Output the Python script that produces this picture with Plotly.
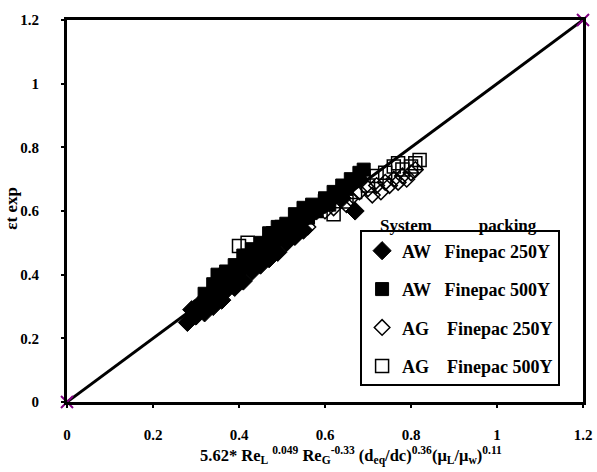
import plotly.graph_objects as go

# AW Finepac 250Y (filled diamonds)
aw250_x = [0.28, 0.29, 0.30, 0.31, 0.32, 0.33, 0.34, 0.35, 0.36, 0.36, 0.37, 0.38, 0.39, 0.40,
           0.41, 0.42, 0.43, 0.44, 0.45, 0.46, 0.47, 0.48, 0.49, 0.50, 0.51, 0.52, 0.53, 0.54,
           0.55, 0.56, 0.58, 0.60, 0.62, 0.64, 0.66, 0.67, 0.68]
aw250_y = [0.25, 0.29, 0.27, 0.31, 0.28, 0.33, 0.30, 0.36, 0.32, 0.40, 0.35, 0.39, 0.36, 0.41,
           0.38, 0.44, 0.41, 0.47, 0.43, 0.49, 0.45, 0.50, 0.47, 0.53, 0.50, 0.55, 0.52, 0.57,
           0.54, 0.59, 0.60, 0.62, 0.65, 0.64, 0.68, 0.60, 0.70]

# AW Finepac 500Y (filled squares)
aw500_x = [0.31, 0.32, 0.33, 0.34, 0.35, 0.35, 0.36, 0.37, 0.38, 0.39, 0.40, 0.41, 0.42, 0.43,
           0.44, 0.45, 0.46, 0.47, 0.48, 0.49, 0.50, 0.51, 0.52, 0.53, 0.54, 0.55, 0.56, 0.57,
           0.58, 0.60, 0.61, 0.62, 0.64, 0.65, 0.66, 0.68, 0.69]
aw500_y = [0.30, 0.34, 0.32, 0.37, 0.33, 0.40, 0.36, 0.41, 0.38, 0.43, 0.40, 0.46, 0.43, 0.48,
           0.45, 0.50, 0.47, 0.53, 0.49, 0.55, 0.52, 0.56, 0.53, 0.59, 0.56, 0.61, 0.58, 0.62,
           0.60, 0.64, 0.62, 0.66, 0.68, 0.67, 0.70, 0.72, 0.73]

# AG Finepac 250Y (open diamonds)
ag250_x = [0.47, 0.53, 0.56, 0.60, 0.62, 0.65, 0.66, 0.68, 0.70, 0.71, 0.72, 0.73, 0.74, 0.75,
           0.76, 0.77, 0.78, 0.79, 0.80, 0.81]
ag250_y = [0.50, 0.52, 0.55, 0.60, 0.61, 0.62, 0.64, 0.66, 0.67, 0.65, 0.68, 0.66, 0.69, 0.68,
           0.70, 0.69, 0.71, 0.70, 0.72, 0.73]

# AG Finepac 500Y (open squares)
ag500_x = [0.37, 0.40, 0.42, 0.48, 0.50, 0.52, 0.56, 0.58, 0.60, 0.62, 0.65, 0.67, 0.70, 0.72,
           0.74, 0.76, 0.77, 0.78, 0.80, 0.81, 0.82]
ag500_y = [0.40, 0.49, 0.50, 0.53, 0.55, 0.53, 0.58, 0.60, 0.63, 0.59, 0.63, 0.66, 0.68, 0.71,
           0.72, 0.74, 0.75, 0.73, 0.74, 0.75, 0.76]

# diagonal y = x
diag_x = [0, 1.2]
diag_y = [0, 1.2]

tick_vals = [0, 0.2, 0.4, 0.6, 0.8, 1.0, 1.2]
tick_text = ["<b>0</b>", "<b>0.2</b>", "<b>0.4</b>", "<b>0.6</b>", "<b>0.8</b>", "<b>1</b>", "<b>1.2</b>"]

x_title = ("<b>5.62* Re<sub>L</sub> <sup>0.049</sup> Re<sub>G</sub><sup>-0.33</sup> "
           "(d<sub>eq</sub>/dc)<sup>0.36</sup>(μ<sub>L</sub>/μ<sub>w</sub>)<sup>0.11</sup></b>")
y_title = "<b>εt exp</b>"

FONT = "Times New Roman, Liberation Serif, serif"
NB = "\u00a0"

fig = go.Figure()

fig.add_trace(go.Scatter(
    x=aw250_x, y=aw250_y, mode="markers", name="<b>AW" + NB * 3 + "Finepac 250Y</b>",
    legendgroup="a",
    marker=dict(symbol="diamond", size=14, color="black", line=dict(color="black", width=1)),
))
fig.add_trace(go.Scatter(
    x=aw500_x, y=aw500_y, mode="markers", name="<b>AW" + NB * 3 + "Finepac 500Y</b>",
    legendgroup="b",
    marker=dict(symbol="square", size=13, color="black", line=dict(color="black", width=1)),
))
fig.add_trace(go.Scatter(
    x=ag250_x, y=ag250_y, mode="markers", name="<b>AG" + NB * 4 + "Finepac 250Y</b>",
    legendgroup="c",
    marker=dict(symbol="diamond-open", size=12, color="black", line=dict(color="black", width=1.5)),
))
fig.add_trace(go.Scatter(
    x=ag500_x, y=ag500_y, mode="markers", name="<b>AG" + NB * 4 + "Finepac 500Y</b>",
    legendgroup="d",
    marker=dict(symbol="square-open", size=13, color="black", line=dict(color="black", width=1.5)),
))
fig.add_trace(go.Scatter(
    x=diag_x, y=diag_y, mode="lines+markers", showlegend=False, cliponaxis=False,
    line=dict(color="black", width=3),
    marker=dict(symbol="x-thin", size=12, color="#800080", line=dict(color="#800080", width=2)),
))

fig.add_annotation(
    x=0.603, y=0.432, xref="paper", yref="paper", xanchor="left", yanchor="bottom",
    text="<b>System" + NB * 11 + "packing</b>", showarrow=False,
    font=dict(family=FONT, size=17, color="black"),
)
fig.add_annotation(
    x=0.55, y=-0.139, xref="paper", yref="paper", xanchor="center", yanchor="middle",
    text=x_title, showarrow=False,
    font=dict(family=FONT, size=16.5, color="black"),
)
fig.add_annotation(
    x=-0.107, y=0.508, xref="paper", yref="paper", xanchor="center", yanchor="middle",
    text=y_title, showarrow=False, textangle=-90,
    font=dict(family=FONT, size=17, color="black"),
)

fig.update_layout(
    width=597, height=472,
    margin=dict(l=67, r=14, t=20, b=70),
    paper_bgcolor="white", plot_bgcolor="white",
    font=dict(family=FONT, size=15, color="black"),
    legend=dict(
        x=0.568, y=0.449, xanchor="left", yanchor="top",
        bordercolor="black", borderwidth=2, bgcolor="white",
        font=dict(family=FONT, size=18, color="black"),
        tracegroupgap=12, traceorder="grouped", itemwidth=30,
    ),
    xaxis=dict(
        range=[0, 1.2], tickvals=tick_vals, ticktext=tick_text, automargin=False,
        showline=True, linecolor="black", linewidth=3, mirror=True,
        ticks="outside", ticklen=3, tickwidth=2, tickcolor="black",
        showgrid=False, zeroline=False, ticklabelstandoff=14,
        tickfont=dict(family=FONT, size=15, color="black"),
    ),
    yaxis=dict(
        range=[0, 1.2], tickvals=tick_vals, ticktext=tick_text, automargin=False,
        showline=True, linecolor="black", linewidth=3, mirror=True,
        ticks="outside", ticklen=3, tickwidth=2, tickcolor="black",
        showgrid=False, zeroline=False, ticklabelstandoff=19,
        tickfont=dict(family=FONT, size=15, color="black"),
    ),
)

fig.write_html("out.html", config={"displayModeBar": False},
               post_script="document.body.style.margin='0';")
